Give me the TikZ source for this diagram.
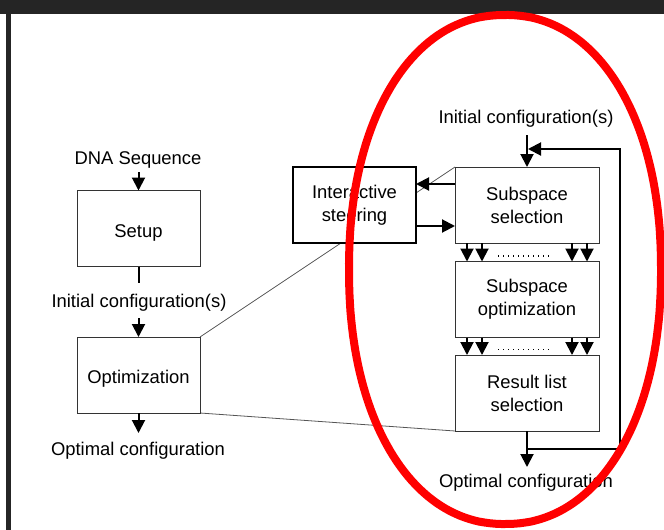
\documentclass[tikz,border=0pt]{standalone}
\usepackage{fontspec}
\setmainfont{Liberation Sans}
\usetikzlibrary{arrows.meta,backgrounds}
\definecolor{framebar}{HTML}{252525}
\definecolor{ringred}{HTML}{FF0000}
\definecolor{boxline}{HTML}{333333}
\definecolor{zoomgray}{HTML}{555555}

\begin{document}
\begin{tikzpicture}[x=1pt,y=-1pt,
  every node/.style={font=\fontsize{18.4}{23}\selectfont},
  stage/.style={draw=boxline, line width=1pt, fill=white, minimum width=123pt,
    minimum height=76pt, inner sep=0pt, outer sep=0pt, align=center},
  oneline/.style={text height=17pt, text depth=0pt},
  widestage/.style={stage, minimum width=144pt},
  txt/.style={inner sep=0pt, outer sep=0pt, text height=13.2pt, text depth=3.9pt},
  flow/.style={line width=2pt, -{Triangle[length=13pt,width=13pt]}},
  plain/.style={line width=2pt},
  zoomline/.style={draw=zoomgray, line width=0.8pt},
  dots/.style={line width=1.2pt, dash pattern=on 1.2pt off 3.8pt}
]
\useasboundingbox (0,0) rectangle (664,530);

% window frame
\fill[framebar] (0,0) rectangle (664,14);
\fill[framebar] (6,14) rectangle (11,530);

% overall pipeline
\node[txt] (dna) at (138,160) {DNA Sequence};
\node[stage, oneline] (setup) at (138.5,228.5) {Setup};
\node[txt] (initL) at (139,302.5) {Initial configuration(s)};
\node[stage, oneline] (optim) at (138.5,375) {Optimization};
\node[txt] (optL) at (138,451) {Optimal configuration};

\coordinate (dnaTail) at (138.5,172);
\coordinate (setupTail) at (138.5,283);
\coordinate (initLTail) at (138.5,318);
\coordinate (optLTip) at (138.5,433);
\draw[flow] (dnaTail) -- (setup.north);
\draw[plain] (setup.south) -- (setupTail);
\draw[flow] (initLTail) -- (optim.north);
\draw[flow] (optim.south) -- (optLTip);

% detailed optimization loop
\node[stage, draw=black, line width=2pt] (steer) at (354.5,205) {Interactive\\steering};
\node[widestage] (subsel) at (527,205) {Subspace\\selection};
\node[widestage] (subopt) at (527,299.5) {Subspace\\optimization};
\node[widestage] (reslist) at (527,393) {Result list\\selection};
\node[txt] (initR) at (526,119) {Initial configuration(s)};
\node[txt] (optR) at (526,483) {Optimal configuration};

\coordinate (initRTail) at (527,135);
\coordinate (optRTip) at (527,467);
\coordinate (loopCorner) at (620,449);
\coordinate (loopTip) at (528,149);

\draw[flow] (initRTail) -- (subsel.north);
\draw[flow] (reslist.south) -- (optRTip);
\draw[flow] (reslist.south) |- (loopCorner) |- (loopTip);

\draw[flow] ([yshift=21pt]subsel.west) -- ([yshift=21pt]steer.east);
\draw[flow] ([yshift=-21pt]steer.east) -- ([yshift=-21pt]subsel.west);

\foreach \upper/\lower/\gap in {subsel/subopt/13, subopt/reslist/12} {
  \foreach \dx in {12,27} {
    \draw[flow] ([xshift=\dx pt]\upper.south west) -- ([xshift=\dx pt]\lower.north west);
    \draw[flow] ([xshift=-\dx pt]\upper.south east) -- ([xshift=-\dx pt]\lower.north east);
  }
  \draw[dots] ([xshift=43pt,yshift=-\gap pt]\upper.south west)
           -- ([xshift=-49pt,yshift=-\gap pt]\upper.south east);
}

% zoom lines from the overview box to the detail
\begin{scope}[on background layer]
  \fill[white] (0,14) rectangle (664,530);
  \draw[zoomline] (optim.north east) -- (subsel.north west);
  \draw[zoomline] (optim.south east) -- (reslist.south west);
\end{scope}

% highlight ring: a slightly fuller-than-elliptic oval (superellipse, exponent 2.15)
\draw[ringred, line width=8pt, line join=round]
  plot[domain=1:359.2, samples=200]
    ({505+156*(cos(\x)<0 ? -1 : 1)*abs(cos(\x))^(0.93)},
     {269.5+254.5*(sin(\x)<0 ? -1 : 1)*abs(sin(\x))^(0.93)}) -- cycle;
\end{tikzpicture}
\end{document}
